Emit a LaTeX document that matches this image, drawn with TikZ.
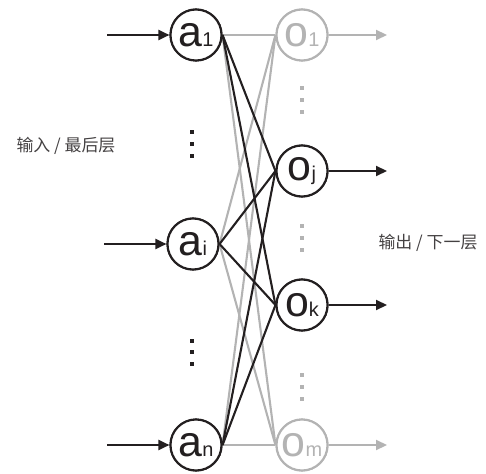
\documentclass[tikz,border=0pt]{standalone}
\usepackage{fontspec}
\setmainfont{Liberation Sans}
\newfontfamily\cjk{Noto Sans CJK SC}
\usetikzlibrary{arrows.meta}
\definecolor{ink}{HTML}{231F20}
\definecolor{fade}{HTML}{B3B3B3}

% letter with a small index beside it
\newcommand{\unitlabel}[2]{#1{\fontsize{20}{20}\selectfont #2}}

\begin{document}
\begin{tikzpicture}[x=1bp,y=-1bp,
  unit/.style={circle,draw=ink,text=ink,fill=white,line width=2.1bp,
    minimum size=51bp,inner sep=0pt,font=\fontsize{43}{43}\selectfont},
  faded/.style={unit,draw=fade,text=fade},
  strong/.style={draw=ink,line width=2.1bp},
  weak/.style={draw=fade,line width=2.1bp},
  flow/.style={-{Triangle[length=11bp,width=10bp]}},
  dotsq/.style={rectangle,inner sep=0pt,minimum size=4.8bp},
  caption/.style={anchor=west,text=ink!85,font=\cjk\fontsize{17}{17}\selectfont}
]
\useasboundingbox (0,0) rectangle (486,474);

% input layer
\node[unit] (a1) at (196,35)  {\unitlabel{a}{1}};
\node[unit] (ai) at (193,244) {\unitlabel{a}{i}};
\node[unit] (an) at (196,445) {\unitlabel{a}{n}};

% output layer
\node[faded] (o1) at (302,35)  {\unitlabel{o}{1}};
\node[unit]  (oj) at (302,171) {\unitlabel{o}{j}};
\node[unit]  (ok) at (302,305) {\unitlabel{o}{k}};
\node[faded] (om) at (302,445) {\unitlabel{o}{m}};

% connections: faded ones first, strong ones on top
\foreach \s in {a1,ai,an}{
  \draw[weak] (\s.east) -- (o1.west);
  \draw[weak] (\s.east) -- (om.west);
}
\foreach \s in {a1,ai,an}{
  \draw[strong] (\s.east) -- (oj.west);
  \draw[strong] (\s.east) -- (ok.west);
}

% redraw the circles above the wiring
\node[unit] at (a1) {\unitlabel{a}{1}};
\node[unit] at (ai) {\unitlabel{a}{i}};
\node[unit] at (an) {\unitlabel{a}{n}};
\node[faded] at (o1) {\unitlabel{o}{1}};
\node[unit]  at (oj) {\unitlabel{o}{j}};
\node[unit]  at (ok) {\unitlabel{o}{k}};
\node[faded] at (om) {\unitlabel{o}{m}};

% incoming arrows
\coordinate (in1) at (107,35);
\coordinate (ini) at (104,244);
\coordinate (inn) at (107,445);
\draw[strong,flow] (in1) -- (a1.west);
\draw[strong,flow] (ini) -- (ai.west);
\draw[strong,flow] (inn) -- (an.west);

% outgoing arrows
\coordinate (out1) at (387,35);
\coordinate (outj) at (387,171);
\coordinate (outk) at (387,305);
\coordinate (outm) at (387,445);
\draw[weak,flow]   (o1.east) -- (out1);
\draw[strong,flow] (oj.east) -- (outj);
\draw[strong,flow] (ok.east) -- (outk);
\draw[weak,flow]   (om.east) -- (outm);

% vertical ellipses
\foreach \y in {132,144,156,341,352,364}
  \node[dotsq,fill=ink] at (192,\y) {};
\foreach \y in {88,100,112,226,238,250,375,387,399}
  \node[dotsq,fill=fade] at (302,\y) {};

% layer captions
\node[caption] (inlabel)  at (13,146)  {输入 / 最后层};
\node[caption] (outlabel) at (375,243) {输出 / 下一层};
\end{tikzpicture}
\end{document}
